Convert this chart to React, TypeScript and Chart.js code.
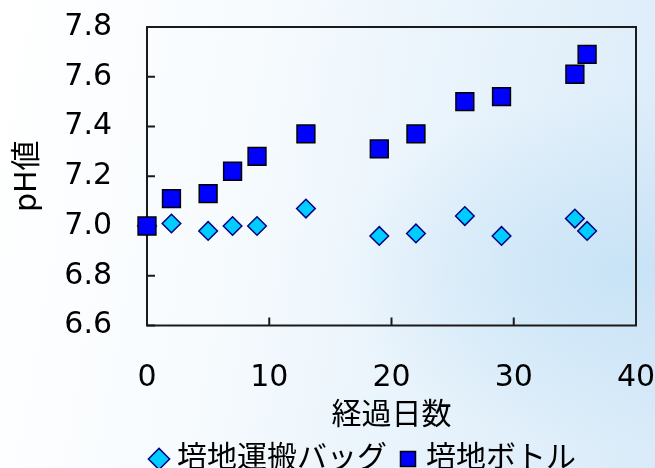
import { useEffect, useRef } from "react";
import { Chart, registerables } from "chart.js";

Chart.register(...registerables);

// ---- data ----
const days = [0, 2, 5, 7, 9, 13, 19, 22, 26, 29, 35, 36];
const bagPH = [7.0, 7.01, 6.98, 7.0, 7.0, 7.07, 6.96, 6.97, 7.04, 6.96, 7.03, 6.98];
const bottlePH = [7.0, 7.11, 7.13, 7.22, 7.28, 7.37, 7.31, 7.37, 7.5, 7.52, 7.61, 7.69];
const seriesNames = ["培地運搬バッグ", "培地ボトル"];
const xTitle = "経過日数";
const yTitle = "pH値";
const xRange = [0, 40];
const yRange = [6.6, 7.8];

const FONT = "'DejaVu Sans', 'Noto Sans CJK JP', sans-serif";

const framePlugin = {
  id: "frame",
  beforeDatasetsDraw(chart: any) {
    const { ctx, chartArea: a, scales } = chart;
    ctx.save();
    ctx.strokeStyle = "#1a1a1a";
    ctx.lineWidth = 2;
    ctx.strokeRect(a.left, a.top, a.right - a.left, a.bottom - a.top);
    const t = 8;
    ctx.beginPath();
    scales.y.ticks.forEach((tk: any) => {
      const y = scales.y.getPixelForValue(tk.value);
      ctx.moveTo(a.left, y);
      ctx.lineTo(a.left + t, y);
    });
    scales.x.ticks.forEach((tk: any) => {
      const x = scales.x.getPixelForValue(tk.value);
      ctx.moveTo(x, a.bottom);
      ctx.lineTo(x, a.bottom - t);
    });
    ctx.stroke();
    ctx.restore();
  },
};

const legendPlacePlugin = {
  id: "legendPlace",
  afterLayout(chart: any) {
    const lg = chart.legend;
    if (!lg) return;
    lg.left = 138;
    lg.right = 655;
    lg.top = 426;
    lg.bottom = 468;
  },
};

export default function App() {
  const ref = useRef<HTMLCanvasElement | null>(null);

  useEffect(() => {
    if (!ref.current) return;
    const chart = new Chart(ref.current, {
      type: "scatter",
      data: {
        datasets: [
          {
            label: seriesNames[0],
            data: days.map((d, i) => ({ x: d, y: bagPH[i] })),
            pointStyle: "rectRot",
            pointRadius: 9.3,
            backgroundColor: "#00CCFF",
            borderColor: "#000080",
            borderWidth: 1.5,
            order: 1,
            clip: false as any,
          },
          {
            label: seriesNames[1],
            data: days.map((d, i) => ({ x: d, y: bottlePH[i] })),
            pointStyle: "rect",
            pointRadius: 12.6,
            backgroundColor: "#0000FF",
            borderColor: "#000000",
            borderWidth: 1.5,
            order: 0,
            clip: false as any,
          },
        ],
      },
      options: {
        animation: false,
        responsive: false,
        events: [],
        layout: { padding: { left: 0, right: 19, top: 27, bottom: 0 } },
        plugins: {
          tooltip: { enabled: false },
          legend: {
            position: "bottom",
            align: "start",
            maxHeight: 37,
            labels: {
              usePointStyle: true,
              boxWidth: 6,
              boxHeight: 15,
              padding: 18,
              color: "#000",
              font: { size: 30, family: FONT },
              sort: (a: any, b: any) => a.datasetIndex - b.datasetIndex,
            },
          },
        },
        scales: {
          x: {
            type: "linear",
            min: xRange[0],
            max: xRange[1],
            grid: { display: false, drawTicks: false },
            border: { display: false },
            ticks: {
              stepSize: 10,
              padding: 35,
              color: "#000",
              font: { size: 30, family: FONT },
              maxRotation: 0,
            },
            title: {
              display: true,
              text: xTitle,
              color: "#000",
              font: { size: 30, family: FONT },
              padding: { top: 0, bottom: -3.5 },
            },
            afterFit: (s: any) => {
              s.height = 105.5;
              s.paddingLeft = 0;
              s.paddingRight = 0;
            },
          },
          y: {
            type: "linear",
            min: yRange[0],
            max: yRange[1],
            grid: { display: false, drawTicks: false },
            border: { display: false },
            ticks: {
              stepSize: 0.2,
              padding: 35,
              color: "#000",
              font: { size: 30, family: FONT },
              callback: (v: any) => Number(v).toFixed(1),
            },
            title: {
              display: true,
              text: yTitle,
              color: "#000",
              font: { size: 30, family: FONT },
              padding: { top: 10, bottom: 0 },
            },
            afterFit: (s: any) => {
              s.width = 147;
              s.paddingTop = 0;
              s.paddingBottom = 0;
            },
          },
        },
      },
      plugins: [framePlugin, legendPlacePlugin],
    });
    return () => chart.destroy();
  }, []);

  return (
    <div
      style={{
        position: "fixed",
        left: 0,
        top: 0,
        width: 655,
        height: 468,
        background:
          "radial-gradient(ellipse 45% 38% at 96% 58%, rgba(198,226,246,0.9) 0%, rgba(198,226,246,0) 100%), linear-gradient(100deg, #ffffff 0%, #f7fbfe 35%, #e6f2fb 70%, #d9ebf9 100%)",
      }}
    >
      <canvas ref={ref} width={655} height={468} style={{ display: "block", width: 655, height: 468 }} />
    </div>
  );
}
